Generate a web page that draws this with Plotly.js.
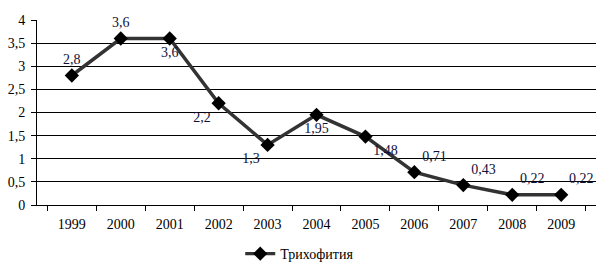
<!DOCTYPE html>
<html>
<head>
<meta charset="utf-8">
<script src="https://cdn.plot.ly/plotly-3.0.1.min.js"></script>
<style>html,body{margin:0;padding:0;background:#fff;}#chart{width:609px;height:271px;}</style>
</head>
<body>
<div id="chart"></div>
<script>
const years = ['1999','2000','2001','2002','2003','2004','2005','2006','2007','2008','2009'];
const values = [2.8, 3.6, 3.6, 2.2, 1.3, 1.95, 1.48, 0.71, 0.43, 0.22, 0.22];
const labelPositions = ['top center','top center','bottom center','bottom left','bottom left','bottom center','bottom right','top right','top right','top right','top right'];
const seriesName = 'Трихофития';
const yTicks = [0, 0.5, 1, 1.5, 2, 2.5, 3, 3.5, 4];
const gridTicks = [0.5, 1, 1.5, 2, 2.5, 3, 3.5];

const font = '"Liberation Serif", "Times New Roman", serif';
const fs = 14;
const trace = {
  x: years, y: values, type: 'scatter', mode: 'lines+markers+text',
  name: seriesName,
  text: values.map(v => String(v).replace('.', ',')),
  textposition: labelPositions,
  textfont: {family: font, size: fs, color: '#10103a'},
  line: {color: '#333333', width: 3.5},
  marker: {symbol: 'diamond', size: 11, color: '#000000'},
  cliponaxis: false
};
const gridTrace = {x: [years[0]], y: [0], yaxis: 'y2', type: 'scatter', mode: 'none', showlegend: false, hoverinfo: 'skip'};
const layout = {
  width: 609, height: 271,
  margin: {l: 37, r: 13, t: 20, b: 66, autoexpand: false},
  paper_bgcolor: '#fff', plot_bgcolor: '#fff',
  separators: ', ',
  font: {family: font, size: fs, color: '#000'},
  showlegend: true,
  legend: {orientation: 'h', x: 0.47, xanchor: 'center', y: -0.265, yanchor: 'middle', font: {family: font, size: fs, color: '#000'}},
  xaxis: {type: 'category', showgrid: false, showline: true, linecolor: '#000', linewidth: 1,
    ticks: 'outside', tickson: 'boundaries', ticklen: 5, tickcolor: '#000', ticklabelstandoff: 6,
    tickfont: {family: font, size: fs, color: '#000'}},
  yaxis: {range: [0, 4], tickvals: yTicks, ticktext: yTicks.map(v => String(v).replace('.', ',')),
    showgrid: false, zeroline: false, showline: true, linecolor: '#000', linewidth: 1,
    ticks: 'outside', ticklen: 5, tickcolor: '#000', ticklabelstandoff: 3,
    tickfont: {family: font, size: fs, color: '#000'}},
  yaxis2: {overlaying: 'y', range: [0, 4], tickvals: gridTicks, showticklabels: false, ticks: '',
    showgrid: true, gridcolor: '#000', gridwidth: 1, zeroline: false, showline: false}
};
Plotly.newPlot('chart', [gridTrace, trace], layout, {displayModeBar: false, staticPlot: true});
</script>
</body>
</html>
